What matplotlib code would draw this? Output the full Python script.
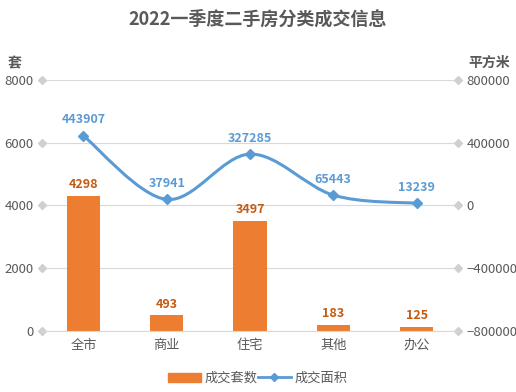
import matplotlib.pyplot as plt
import numpy as np
from matplotlib.path import Path
from matplotlib.patches import PathPatch

plt.rcParams['font.family'] = ['Noto Sans CJK SC', 'DejaVu Sans']

categories = ['全市', '商业', '住宅', '其他', '办公']
units = [4298, 493, 3497, 183, 125]
areas = [443907, 37941, 327285, 65443, 13239]

bar_color = '#ED7D31'
line_color = '#5B9BD5'
text_gray = '#595959'

fig = plt.figure(figsize=(5.16, 3.92), dpi=100)
ax = fig.add_axes([0.081, 0.156, 0.807, 0.64])
ax2 = ax.twinx()

x = np.arange(len(categories))
ax.bar(x, units, width=0.4, color=bar_color, zorder=2, label='成交套数')
for xi, v in zip(x, units):
    ax.text(xi, v + 150, str(v), ha='center', va='bottom', color='#C55A11',
            fontsize=9, fontweight='bold')

ax.set_ylim(0, 8000)
ax.set_yticks([0, 2000, 4000, 6000, 8000])
ax.set_xlim(-0.5, 4.5)
ax.set_xticks(x)
ax.set_xticklabels(categories)
ax.grid(axis='y', color='#D9D9D9', linewidth=0.8, zorder=0)
ax.set_axisbelow(True)
for s in ['top', 'left', 'right']:
    ax.spines[s].set_visible(False)
ax.spines['bottom'].set_color('#D9D9D9')
ax.tick_params(axis='both', length=0, colors=text_gray, labelsize=9.5, pad=6)

# smooth line through the points (Catmull-Rom as Bezier segments)
ya = np.array(areas, dtype=float)
xa = x.astype(float)
verts = [(xa[0], ya[0])]
codes = [Path.MOVETO]
for i in range(len(xa) - 1):
    p0 = (xa[i - 1], ya[i - 1]) if i > 0 else (xa[i], ya[i])
    p1 = (xa[i], ya[i])
    p2 = (xa[i + 1], ya[i + 1])
    p3 = (xa[i + 2], ya[i + 2]) if i + 2 < len(xa) else p2
    t = 1 / 6
    c1 = (p1[0] + (p2[0] - p0[0]) * t, p1[1] + (p2[1] - p0[1]) * t)
    c2 = (p2[0] - (p3[0] - p1[0]) * t, p2[1] - (p3[1] - p1[1]) * t)
    verts += [c1, c2, p2]
    codes += [Path.CURVE4] * 3
ax2.add_patch(PathPatch(Path(verts, codes), fill=False, edgecolor=line_color,
                        linewidth=2.2, zorder=3))
ax2.plot(x, areas, linestyle='none', marker='D', markersize=5, color=line_color, zorder=4)
for xi, v in zip(x, areas):
    ax2.text(xi, v + 60000, str(v), ha='center', va='bottom', color=line_color,
             fontsize=9, fontweight='bold')

ax2.set_ylim(-800000, 800000)
ax2.set_yticks([-800000, -400000, 0, 400000, 800000])
for s in ax2.spines.values():
    s.set_visible(False)
ax2.tick_params(axis='y', length=0, colors=text_gray, labelsize=9.5, pad=6)

# diamond marks at gridline ends
for yv in [0, 2000, 4000, 6000, 8000]:
    yf = yv / 8000
    ax.plot([0, 1], [yf, yf], transform=ax.transAxes, linestyle='none', marker='D',
            markersize=4, color='#D0D0D0', clip_on=False, zorder=1)

ax.text(-0.065, 1.04, '套', transform=ax.transAxes, fontsize=10, color=text_gray,
        ha='center', va='bottom', fontweight='bold')
ax.text(1.075, 1.04, '平方米', transform=ax.transAxes, fontsize=10, color=text_gray,
        ha='center', va='bottom', fontweight='bold')

fig.suptitle('2022一季度二手房分类成交信息', x=0.5, y=0.975, fontsize=13,
             fontweight='bold', color=text_gray)

h1 = plt.Rectangle((0, 0), 1, 1, color=bar_color)
h2, = ax.plot([], [], color=line_color, marker='D', markersize=4, linewidth=2)
fig.legend([h1, h2], ['成交套数', '成交面积'], loc='lower center', ncol=2,
           bbox_to_anchor=(0.5, -0.012), frameon=False, fontsize=9.5,
           handlelength=2.5, columnspacing=0.0, handletextpad=0.3,
           labelcolor=text_gray)

fig.savefig('out.png', dpi=100)
